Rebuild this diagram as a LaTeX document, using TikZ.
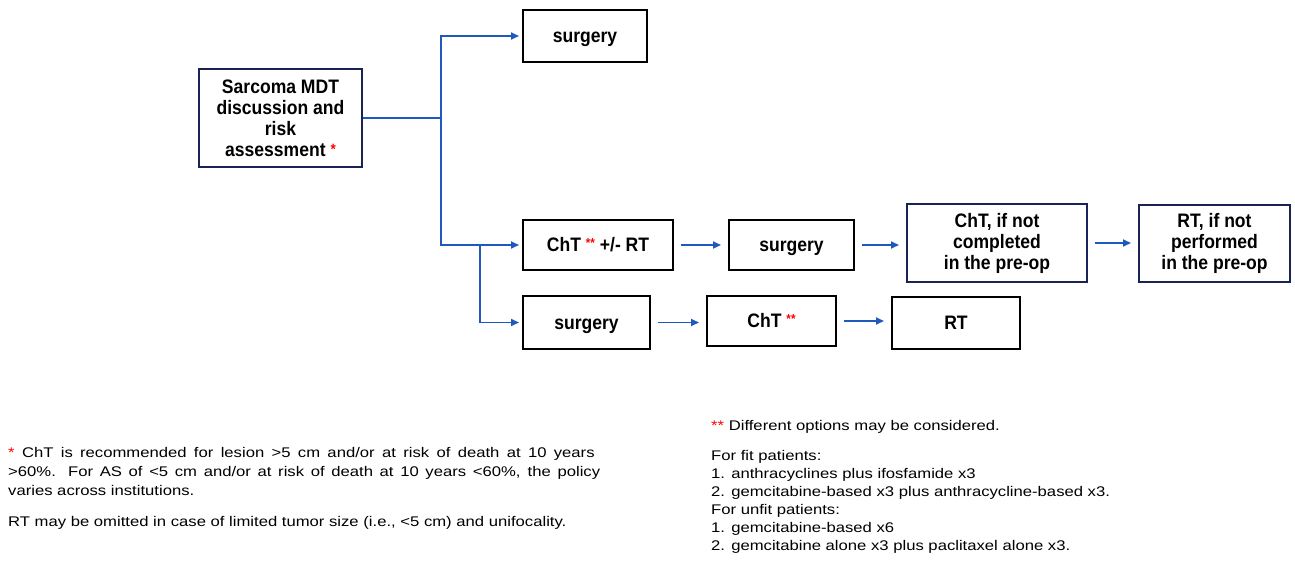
\documentclass[tikz,border=0pt]{standalone}
\usepackage{fontspec}
\setmainfont{Liberation Sans}
\newfontfamily\fnfont[FakeStretch=1.19]{Liberation Sans}
\newfontfamily\boxfont[FakeStretch=0.9]{Liberation Sans}
\usetikzlibrary{arrows.meta,calc}
\definecolor{flowblue}{RGB}{30,90,190}
\definecolor{navy}{RGB}{25,35,85}
\newcommand{\rast}{{\color{red}\raisebox{2pt}{\fontsize{15}{15}\selectfont *}}}
\newcommand{\rastt}{{\color{red}\raisebox{4pt}{\fontsize{13}{13}\selectfont **}}}
\tikzset{
  box/.style={draw=black, line width=2pt, inner sep=2pt,
    font=\boxfont\fontsize{19.5}{21}\selectfont\bfseries},
  onebox/.style={box, text height=13pt, text depth=0pt},
  navybox/.style={box, draw=navy, align=center},
  flow/.style={draw=flowblue, line width=1.8pt},
  arr/.style={flow, -{Triangle[length=8pt,width=7pt]}},
  row/.style={arr, shorten <=7pt, shorten >=7pt},
  fn/.style={anchor=base west, inner sep=0pt, font=\fnfont\fontsize{14}{18}\selectfont}
}
\begin{document}
\begin{tikzpicture}[x=1pt,y=-1pt]
\useasboundingbox (0,0) rectangle (1295,564);
% boxes
\node[navybox, minimum width=163pt, minimum height=98pt] (mdt) at (280.5,118) {Sarcoma MDT\\discussion and\\risk\\assessment \rast};
\node[onebox, minimum width=124pt, minimum height=52pt] (s1) at (585,36) {surgery};
\node[onebox, minimum width=150pt, minimum height=50pt] (c1) at (598,245) {ChT \rastt{} +/- RT};
\node[onebox, minimum width=125pt, minimum height=50pt] (s2) at (791.5,245) {surgery};
\node[navybox, minimum width=180pt, minimum height=78pt] (c2) at (997,243) {ChT, if not\\completed\\in the pre-op};
\node[navybox, minimum width=151pt, minimum height=77pt] (r2) at (1214.5,243.5) {RT, if not\\performed\\in the pre-op};
\node[onebox, minimum width=127pt, minimum height=53pt] (s3) at (586.5,322.5) {surgery};
\node[onebox, minimum width=129pt, minimum height=50pt] (c3) at (771.5,321) {ChT \rastt};
\node[onebox, minimum width=128pt, minimum height=52pt] (r3) at (956,323) {RT};
% connectors
\coordinate (j1) at (441,118);
\coordinate (j2) at (480,246);
\draw[flow] (mdt.east) -- (j1);
\draw[arr, shorten >=3pt] (j1) |- (s1.west);
\draw[arr, shorten >=3pt] (j1) |- (c1.west);
\draw[arr, shorten >=3pt] (j2) |- (s3.west);
\draw[row] (c1.east) -- (s2.west);
\draw[row] (s2.east) -- (s2.east -| c2.west);
\draw[row] (c2.east) -- (c2.east -| r2.west);
\draw[row] (s3.east) -- (s3.east -| c3.west);
\draw[row] (c3.east) -- (c3.east -| r3.west);
% footnotes left
\node[fn] (fa) at (8,457) {{\color{red}*}\makebox[580pt][s]{ ChT is recommended for lesion >5 cm and/or at risk of death at 10 years}};
\node[fn] (fb) at (8,476) {\makebox[592pt][s]{>60\%. For AS of <5 cm and/or at risk of death at 10 years <60\%, the policy}};
\node[fn] (fc) at (8,495) {varies across institutions.};
\node[fn] (fd) at (8,526) {RT may be omitted in case of limited tumor size (i.e., <5 cm) and unifocality.};
% footnotes right
\node[fn] (ga) at (711,430) {{\color{red}**} Different options may be considered.};
\node[fn] (gb) at (711,460) {For fit patients:};
\node[fn] (gc) at (711,478) {1. anthracyclines plus ifosfamide x3};
\node[fn] (gd) at (711,496) {2. gemcitabine-based x3 plus anthracycline-based x3.};
\node[fn] (ge) at (711,514) {For unfit patients:};
\node[fn] (gf) at (711,532) {1. gemcitabine-based x6};
\node[fn] (gg) at (711,550) {2. gemcitabine alone x3 plus paclitaxel alone x3.};
\end{tikzpicture}
\end{document}
